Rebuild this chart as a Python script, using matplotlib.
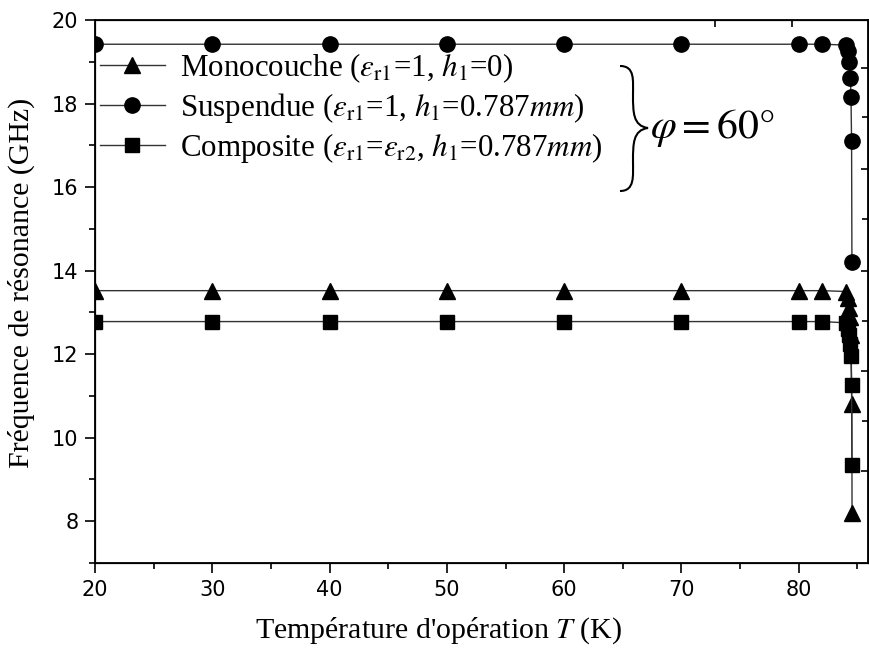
import numpy as np
import matplotlib
matplotlib.use("Agg")
import matplotlib.pyplot as plt
from matplotlib.path import Path
from matplotlib.patches import PathPatch

# --- data ---
T_susp = [20, 30, 40, 50, 60, 70, 80, 82, 84, 84.2, 84.3, 84.4, 84.45, 84.5, 84.53]
f_susp = [19.42, 19.42, 19.42, 19.42, 19.42, 19.42, 19.42, 19.42,
          19.40, 19.25, 19.0, 18.62, 18.15, 17.1, 14.2]

T_mono = [20, 30, 40, 50, 60, 70, 80, 82, 84, 84.2, 84.3, 84.4, 84.45, 84.52, 84.54]
f_mono = [13.52, 13.52, 13.52, 13.52, 13.52, 13.52, 13.52, 13.52,
          13.5, 13.35, 13.1, 12.9, 12.45, 10.8, 8.2]

T_comp = [20, 30, 40, 50, 60, 70, 80, 82, 84, 84.2, 84.3, 84.4, 84.45, 84.5, 84.53]
f_comp = [12.78, 12.78, 12.78, 12.78, 12.78, 12.78, 12.78, 12.78,
          12.75, 12.6, 12.45, 12.25, 11.95, 11.25, 9.35]

labels = [r'Monocouche ($\varepsilon_{\rm r1}$=1, $h_1$=0)',
          r'Suspendue ($\varepsilon_{\rm r1}$=1, $h_1$=0.787$mm$)',
          r'Composite ($\varepsilon_{\rm r1}$=$\varepsilon_{\rm r2}$, $h_1$=0.787$mm$)']

xticks = [20, 30, 40, 50, 60, 70, 80]
yticks = [8, 10, 12, 14, 16, 18, 20]

plt.rcParams['mathtext.fontset'] = 'stix'
serif = ['Liberation Serif', 'DejaVu Serif']
sans = ['DejaVu Sans']

fig = plt.figure(figsize=(8.69, 6.53), dpi=100)
ax = fig.add_axes([95 / 869, 1 - 563 / 653, 773 / 869, 543 / 653])

lc = '#333333'
kw = dict(color=lc, lw=1.0, mfc='black', mec='black')
ax.plot(T_mono, f_mono, marker='^', ms=11, label=labels[0], **kw)
ax.plot(T_susp, f_susp, marker='o', ms=11, label=labels[1], **kw)
ax.plot(T_comp, f_comp, marker='s', ms=9.5, label=labels[2], **kw)

ax.set_xlim(20, 85.9)
ax.set_ylim(7, 20)
ax.set_xticks(xticks)
ax.set_yticks(yticks)
ax.set_xticks(np.arange(25, 86, 10), minor=True)
ax.set_yticks(np.arange(7, 20, 2), minor=True)
ax.tick_params(axis='both', which='major', direction='out', length=7, width=1.2,
               labelsize=15, pad=5)
ax.tick_params(axis='both', which='minor', direction='out', length=4, width=1.2)
for lab in ax.get_xticklabels() + ax.get_yticklabels():
    lab.set_family(sans)
for s in ax.spines.values():
    s.set_linewidth(1.3)

ax.set_xlabel(r"Température d'opération $T$ (K)", family=serif, fontsize=21.5)
ax.set_ylabel("Fréquence de résonance (GHz)", family=serif, fontsize=21.5)
ax.xaxis.set_label_coords((439 - 95) / 773, -0.097)
ax.yaxis.set_label_coords(-0.078, (563 - 283) / 543)

# odd tick marks on the right and top frame of the original
ax2 = ax.twinx()
ax2.set_ylim(ax.get_ylim())
ax2.set_yticks([17.67, 15.24, 12.79, 10.4])
ax2.set_yticks([18.86, 16.43, 14.0, 11.6, 9.21], minor=True)
ax2.tick_params(axis='y', which='major', direction='inout', length=9, width=1.2, labelright=False)
ax2.tick_params(axis='y', which='minor', direction='in', length=5, width=1.2)
ax2.set_yticklabels([])
ax3 = ax.twiny()
ax3.set_xlim(ax.get_xlim())
ax3.set_xticks([79.42, 72.86])
ax3.tick_params(axis='x', which='major', direction='in', length=5, width=1.2, labeltop=False)
ax3.set_xticklabels([])

leg = ax.legend(loc='upper left', bbox_to_anchor=(0.006, 0.943), frameon=False,
                prop={'family': serif, 'size': 22.3}, handlelength=2.1,
                handletextpad=0.5, labelspacing=0.2, borderaxespad=0.0,
                borderpad=0.0)

# brace + phi annotation
verts = [(620, 66), (635, 66), (633, 80), (633, 95),
         (633, 112), (633, 126), (648, 128),
         (633, 130), (633, 144), (633, 161),
         (633, 176), (635, 191), (620, 191)]
codes = [Path.MOVETO] + [Path.CURVE4] * 12
pts = [(x / 100, (653 - y) / 100) for x, y in verts]
brace = PathPatch(Path(pts, codes), fill=False, lw=1.5, color='black',
                  transform=fig.dpi_scale_trans)
fig.patches.append(brace)
fig.text(650 / 869, 1 - 128 / 653, r'$\varphi = 60°$', fontsize=30,
         va='center', ha='left')

fig.savefig('out.png', dpi=100)
